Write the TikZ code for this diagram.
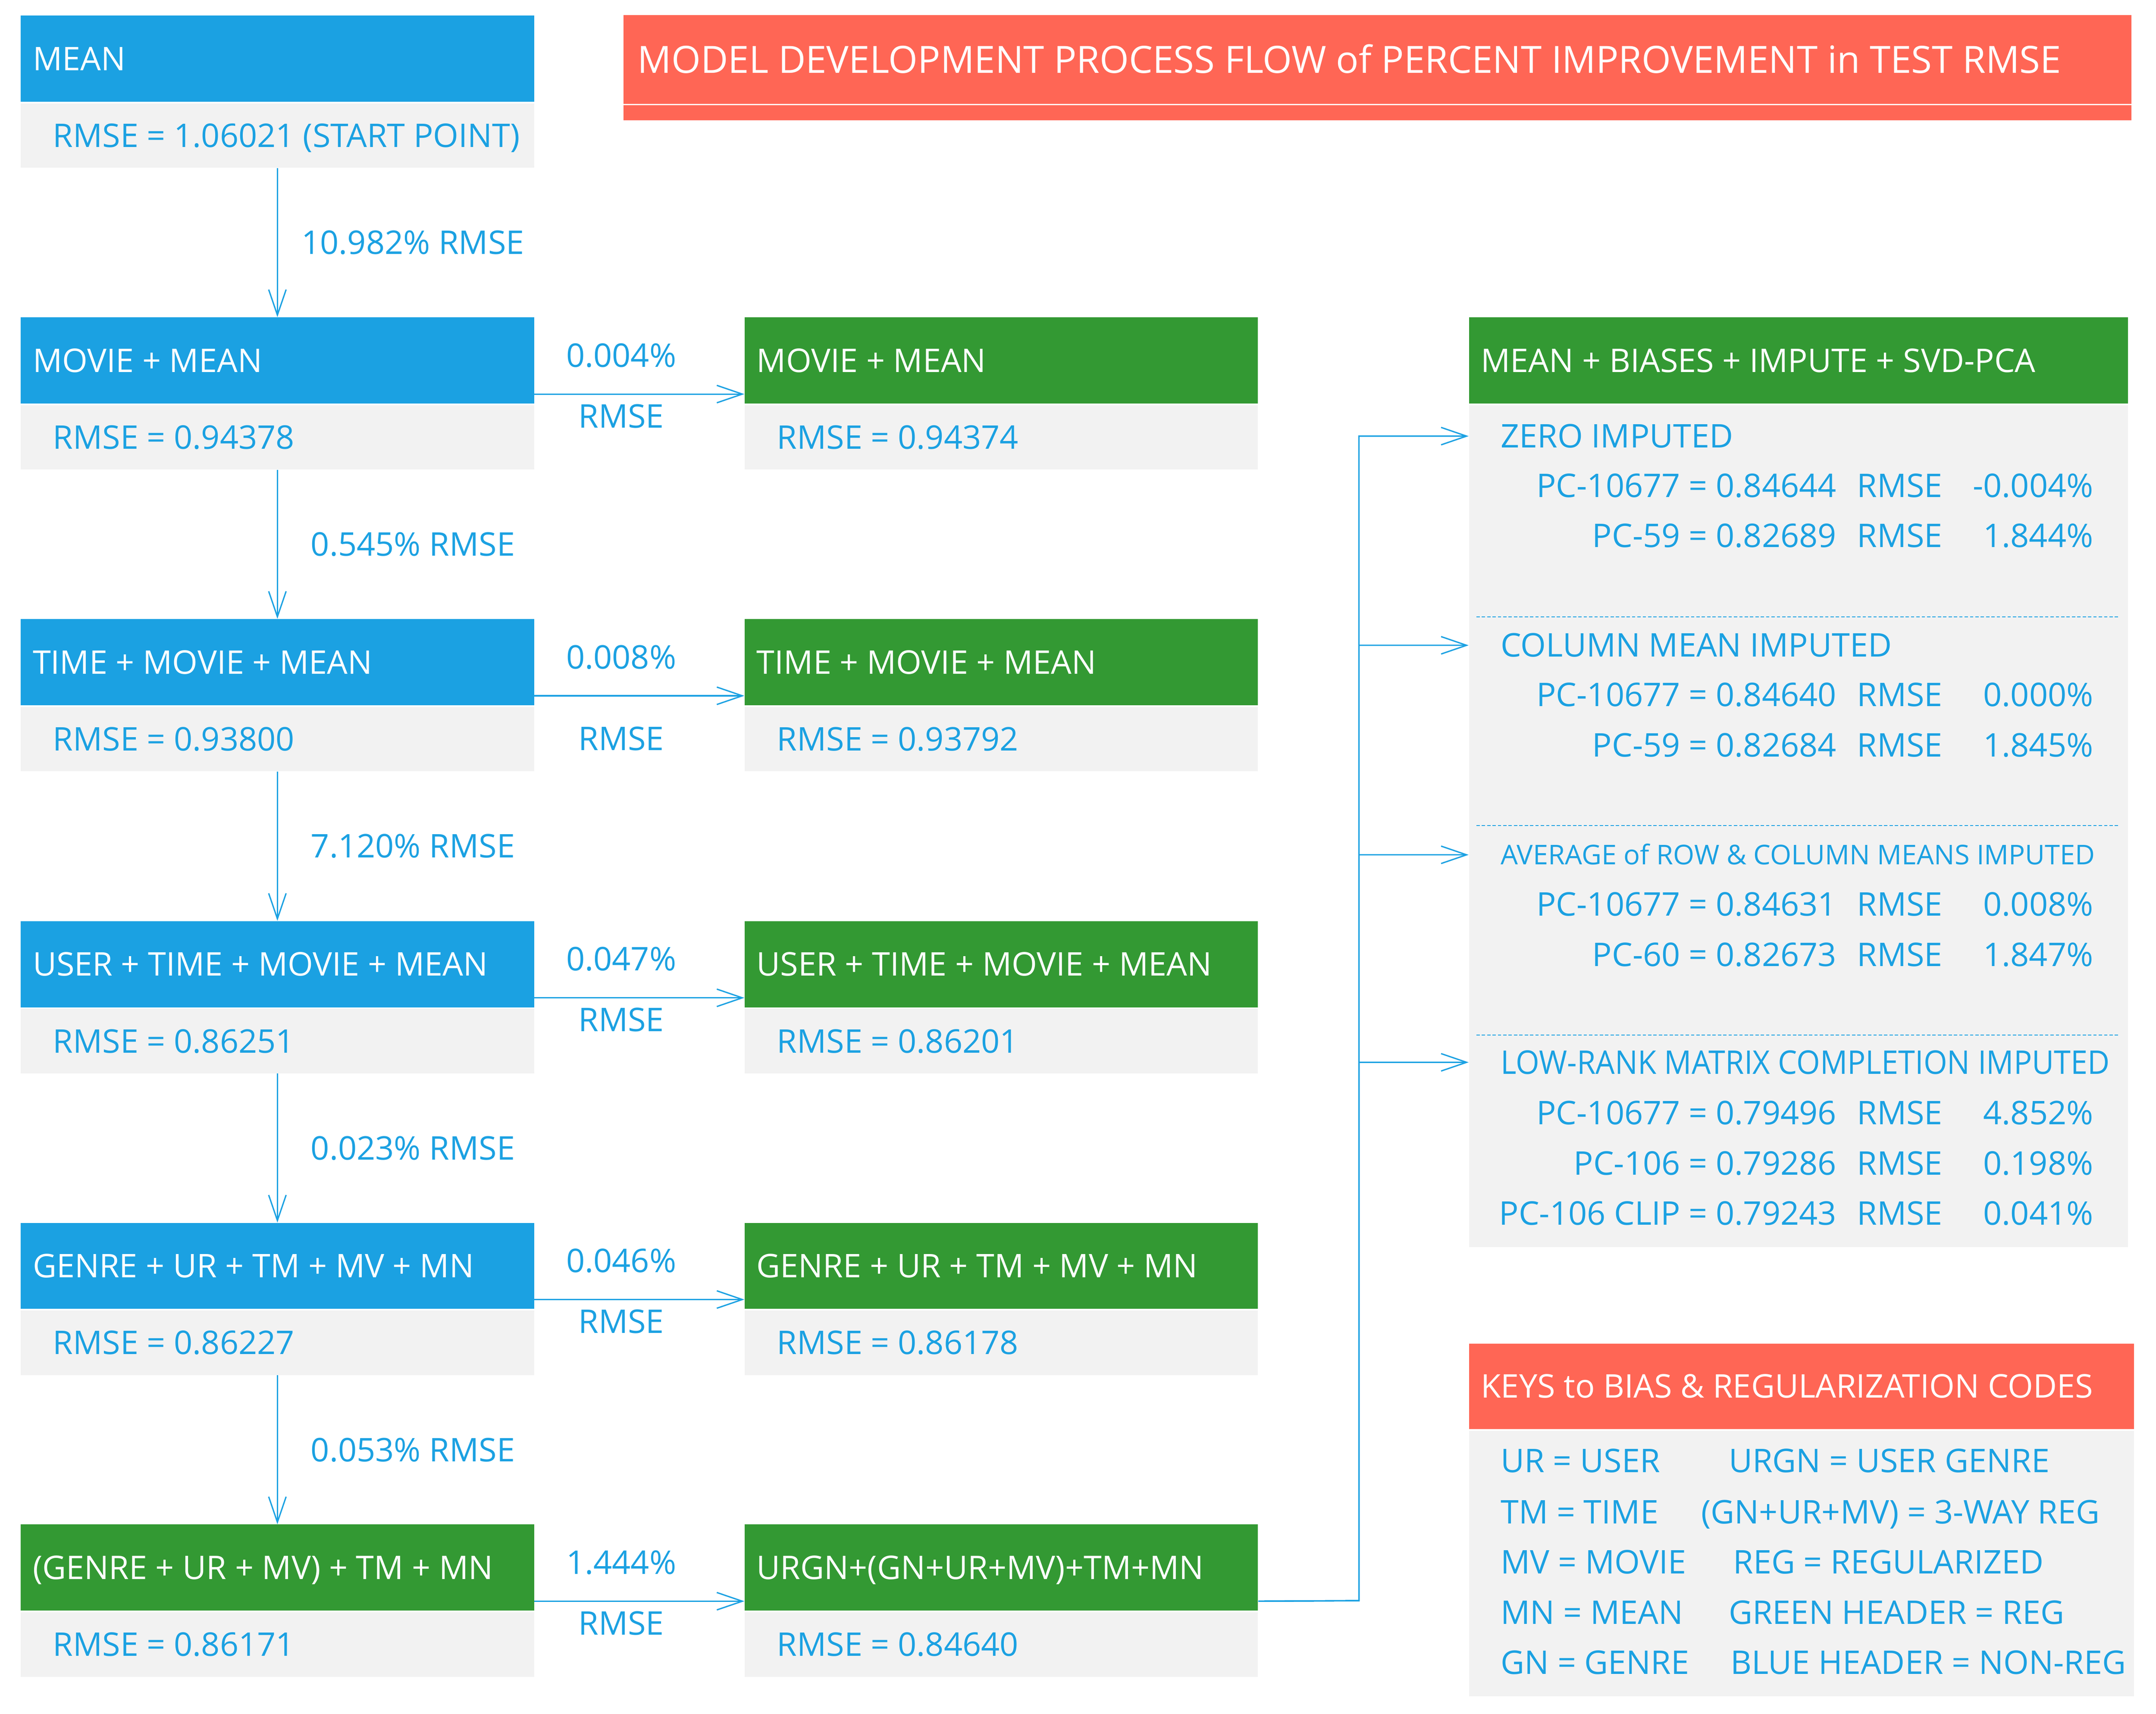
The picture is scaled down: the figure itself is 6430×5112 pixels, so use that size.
\documentclass[tikz,border=0pt]{standalone}
\usepackage{fontspec}
\usepackage{graphicx}
\setmainfont{Open Sans}
\usetikzlibrary{arrows.meta}
\definecolor{nblue}{HTML}{1BA1E2}
\definecolor{ngreen}{HTML}{339933}
\definecolor{nred}{HTML}{FF6655}
\definecolor{lgray}{HTML}{F2F2F2}
% one PC result line: label = value, RMSE, percent
\newcommand{\pcrow}[2]{\makebox[260pt][r]{#1}\hspace{15.25pt}\makebox[176.25pt][l]{RMSE\hfill #2}}
\begin{document}
\begin{tikzpicture}[x=0.25pt,y=-0.25pt,
    every node/.style={font=\fontsize{24.3pt}{29pt}\selectfont,inner sep=0pt,text height=17.35pt,text depth=0pt},
    hdr/.style 2 args={anchor=north west,fill=#1,text=white,minimum width=#2,minimum height=64.25pt,
        execute at begin node={\hbox to #2\bgroup\hspace*{9pt}},execute at end node={\hss\egroup}},
    bdy/.style={anchor=north west,fill=lgray,text=nblue,minimum width=382.75pt,minimum height=48pt,
        execute at begin node={\hbox to 382.75pt\bgroup\hspace*{24pt}},execute at end node={\hss\egroup}},
    panel/.style={anchor=north west,fill=lgray,minimum width=#1},
    lbl/.style={text=nblue},
    flow/.style={draw=nblue,line width=1pt,-{Straight Barb[length=19pt,width=13pt]}},
    sep/.style={draw=nblue,line width=0.6pt,dash pattern=on 2.5pt off 1.5pt}]
\useasboundingbox (0,0) rectangle (6430,5112);

% title
\node[hdr={nred}{1124.25pt},minimum height=66pt,font=\fontsize{28pt}{34pt}\selectfont,text height=20pt] (title) at (1859,44.6)
    {\hspace*{1.5pt}MODEL DEVELOPMENT PROCESS FLOW of PERCENT IMPROVEMENT in TEST RMSE};
\fill[nred] (1859,314) rectangle (6356,359);

% main column
\node[hdr={nblue}{382.75pt}] (m0h) at (61,46) {MEAN};
\node[bdy] (m0b) at (61,308) {RMSE = 1.06021 (START POINT)};
\node[hdr={nblue}{382.75pt}] (m1h) at (61,946) {MOVIE + MEAN};
\node[bdy] (m1b) at (61,1208) {RMSE = 0.94378};
\node[hdr={nblue}{382.75pt}] (m2h) at (61,1846) {TIME + MOVIE + MEAN};
\node[bdy] (m2b) at (61,2108) {RMSE = 0.93800};
\node[hdr={nblue}{382.75pt}] (m3h) at (61,2747) {USER + TIME + MOVIE + MEAN};
\node[bdy] (m3b) at (61,3009) {RMSE = 0.86251};
\node[hdr={nblue}{382.75pt}] (m4h) at (61,3647) {GENRE + UR + TM + MV + MN};
\node[bdy] (m4b) at (61,3909) {RMSE = 0.86227};
\node[hdr={ngreen}{382.75pt}] (m5h) at (61,4547) {(GENRE + UR + MV) + TM + MN};
\node[bdy] (m5b) at (61,4809) {RMSE = 0.86171};

% regularized column
\node[hdr={ngreen}{382.75pt}] (r1h) at (2220,946) {MOVIE + MEAN};
\node[bdy] (r1b) at (2220,1208) {RMSE = 0.94374};
\node[hdr={ngreen}{382.75pt}] (r2h) at (2220,1846) {TIME + MOVIE + MEAN};
\node[bdy] (r2b) at (2220,2108) {RMSE = 0.93792};
\node[hdr={ngreen}{382.75pt}] (r3h) at (2220,2747) {USER + TIME + MOVIE + MEAN};
\node[bdy] (r3b) at (2220,3009) {RMSE = 0.86201};
\node[hdr={ngreen}{382.75pt}] (r4h) at (2220,3647) {GENRE + UR + TM + MV + MN};
\node[bdy] (r4b) at (2220,3909) {RMSE = 0.86178};
\node[hdr={ngreen}{382.75pt}] (r5h) at (2220,4547) {URGN+(GN+UR+MV)+TM+MN};
\node[bdy] (r5b) at (2220,4809) {RMSE = 0.84640};

% down the main column
\draw[flow] (m0b.south) -- (m1h.north) node[lbl,midway,xshift=101pt] {10.982\% RMSE};
\draw[flow] (m1b.south) -- (m2h.north) node[lbl,midway,xshift=101pt] {0.545\% RMSE};
\draw[flow] (m2b.south) -- (m3h.north) node[lbl,midway,xshift=101pt] {7.120\% RMSE};
\draw[flow] (m3b.south) -- (m4h.north) node[lbl,midway,xshift=101pt] {0.023\% RMSE};
\draw[flow] (m4b.south) -- (m5h.north) node[lbl,midway,xshift=101pt] {0.053\% RMSE};

% across to the regularized column
\draw[flow] ([yshift=7.25pt]m1h.south east) -- ([yshift=7.25pt]r1h.south west)
    node[lbl,midway,xshift=-13.5pt,yshift=28.9pt] {0.004\%} node[lbl,midway,xshift=-13.5pt,yshift=-16.5pt] {RMSE};
\draw[flow] ([yshift=7.25pt]m2h.south east) -- ([yshift=7.25pt]r2h.south west)
    node[lbl,midway,xshift=-13.5pt,yshift=28.9pt] {0.008\%} node[lbl,midway,xshift=-13.5pt,yshift=-32.1pt] {RMSE};
\draw[flow] ([yshift=7.25pt]m3h.south east) -- ([yshift=7.25pt]r3h.south west)
    node[lbl,midway,xshift=-13.5pt,yshift=28.9pt] {0.047\%} node[lbl,midway,xshift=-13.5pt,yshift=-16.5pt] {RMSE};
\draw[flow] ([yshift=7.25pt]m4h.south east) -- ([yshift=7.25pt]r4h.south west)
    node[lbl,midway,xshift=-13.5pt,yshift=28.9pt] {0.046\%} node[lbl,midway,xshift=-13.5pt,yshift=-16.5pt] {RMSE};
\draw[flow] ([yshift=7.25pt]m5h.south east) -- ([yshift=7.25pt]r5h.south west)
    node[lbl,midway,xshift=-13.5pt,yshift=28.9pt] {1.444\%} node[lbl,midway,xshift=-13.5pt,yshift=-16.5pt] {RMSE};

% SVD-PCA panel
\node[hdr={ngreen}{491.25pt}] (svdh) at (4380,946) {MEAN + BIASES + IMPUTE + SVD-PCA};
\node[panel=491.25pt,minimum height=628pt] (svdb) at (4380,1208) {};
\node[lbl,anchor=west] (zero) at (4475,1301) {ZERO IMPUTED};
\node[lbl,anchor=west] (z1) at (4436,1449) {\pcrow{PC-10677 = 0.84644}{-0.004\%}};
\node[lbl,anchor=west] (z2) at (4436,1598) {\pcrow{PC-59 = 0.82689}{1.844\%}};
\draw[sep] (4403,1840) -- (6322,1840);
\node[lbl,anchor=west] (colm) at (4475,1925) {COLUMN MEAN IMPUTED};
\node[lbl,anchor=west] (c1) at (4436,2073) {\pcrow{PC-10677 = 0.84640}{0.000\%}};
\node[lbl,anchor=west] (c2) at (4436,2223) {\pcrow{PC-59 = 0.82684}{1.845\%}};
\draw[sep] (4403,2463) -- (6322,2463);
\node[lbl,anchor=west,font=\fontsize{20.3pt}{24pt}\selectfont,text height=14.5pt] (avg) at (4475,2550) {AVERAGE of ROW \& COLUMN MEANS IMPUTED};
\node[lbl,anchor=west] (a1) at (4436,2697) {\pcrow{PC-10677 = 0.84631}{0.008\%}};
\node[lbl,anchor=west] (a2) at (4436,2848) {\pcrow{PC-60 = 0.82673}{1.847\%}};
\draw[sep] (4403,3088) -- (6322,3088);
\node[lbl,anchor=west] (lowr) at (4475,3169) {\scalebox{0.93}[1]{LOW-RANK MATRIX COMPLETION IMPUTED}};
\node[lbl,anchor=west] (l1) at (4436,3320) {\pcrow{PC-10677 = 0.79496}{4.852\%}};
\node[lbl,anchor=west] (l2) at (4436,3470) {\pcrow{PC-106 = 0.79286}{0.198\%}};
\node[lbl,anchor=west] (l3) at (4436,3619) {\pcrow{PC-106 CLIP = 0.79243}{0.041\%}};

% from the best regularized model into the panel
\coordinate (trunk) at (4053,4775);
\draw[flow] ([yshift=7.25pt]r5h.south east) -- (trunk) |- (svdb.west |- zero);
\draw[flow] ([yshift=7.25pt]r5h.south east) -- (trunk) |- (svdb.west |- colm);
\draw[flow] ([yshift=7.25pt]r5h.south east) -- (trunk) |- (svdb.west |- avg);
\draw[flow] ([yshift=7.25pt]r5h.south east) -- (trunk) |- (svdb.west |- lowr);

% keys
\node[hdr={nred}{496pt},minimum height=63.75pt] (keyh) at (4380,4007) {KEYS to BIAS \& REGULARIZATION CODES};
\node[panel=496pt,minimum height=198.25pt] (keyb) at (4380,4267) {};
\node[lbl,anchor=west] (k1a) at (4475,4358) {UR = USER};
\node[lbl,anchor=west] (k1b) at (5155,4358) {URGN = USER GENRE};
\node[lbl,anchor=west] (k2a) at (4475,4511) {TM = TIME};
\node[lbl,anchor=west] (k2b) at (5073,4511) {(GN+UR+MV) = 3-WAY REG};
\node[lbl,anchor=west] (k3a) at (4475,4660) {MV = MOVIE};
\node[lbl,anchor=west] (k3b) at (5168,4660) {REG = REGULARIZED};
\node[lbl,anchor=west] (k4a) at (4475,4810) {MN = MEAN};
\node[lbl,anchor=west] (k4b) at (5155,4810) {GREEN HEADER = REG};
\node[lbl,anchor=west] (k5a) at (4475,4959) {GN = GENRE};
\node[lbl,anchor=west] (k5b) at (5160,4959) {BLUE HEADER = NON-REG};
\end{tikzpicture}
\end{document}
